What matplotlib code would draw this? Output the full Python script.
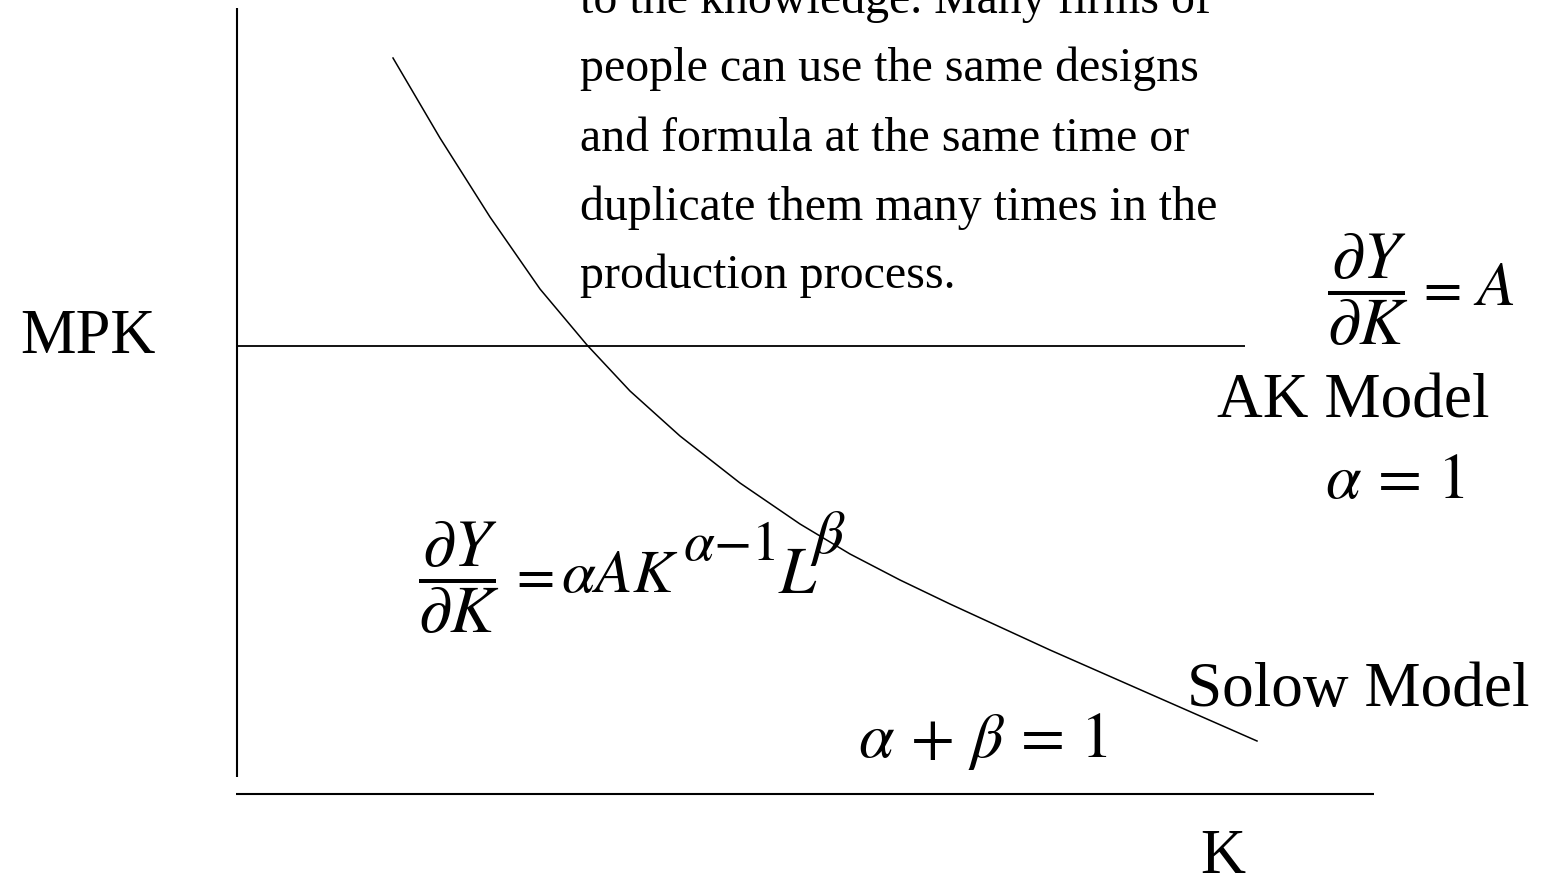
import matplotlib
matplotlib.use("Agg")
import matplotlib.pyplot as plt

plt.rcParams['font.family'] = ['Liberation Serif', 'DejaVu Serif']
plt.rcParams['mathtext.fontset'] = 'stix'

# diminishing MPK curve (Solow)
k_solow = [1.56, 2.03, 2.53, 3.03, 3.50, 3.93, 4.43, 5.03, 5.63, 6.13, 6.63, 7.13, 8.13, 9.13, 10.20]
mpk_solow = [7.36, 6.56, 5.77, 5.05, 4.49, 4.03, 3.58, 3.11, 2.70, 2.40, 2.14, 1.90, 1.44, 1.00, 0.53]

# constant MPK (AK model)
k_ak = [0.0, 10.08]
mpk_ak = [4.48, 4.48]

# axis extents
y_axis = [0.17, 7.86]
x_axis = [-0.01, 11.37]

note_lines = [
    "to the knowledge. Many firms of",
    "people can use the same designs",
    "and formula at the same time or",
    "duplicate them many times in the",
    "production process.",
]
note_baselines = [7.82, 7.14, 6.44, 5.75, 5.07]

fig = plt.figure(figsize=(15.49, 8.78), dpi=100)
ax = fig.add_axes([0, 0, 1, 1])
ax.set_xlim(-2.37, 13.12)
ax.set_ylim(-0.83, 7.95)
ax.axis('off')

ax.plot([0, 0], y_axis, color='black', lw=1.5, solid_capstyle='butt')
ax.plot(x_axis, [0, 0], color='black', lw=1.5, solid_capstyle='butt')
ax.plot(k_ak, mpk_ak, color='black', lw=1.3, solid_capstyle='butt')
ax.plot(k_solow, mpk_solow, color='black', lw=1.1)

for line, yb in zip(note_lines, note_baselines):
    ax.text(3.43, yb, line, fontsize=34.5, va='baseline', ha='left')

ax.text(-2.17, 4.42, "MPK", fontsize=45, va='baseline')
ax.text(9.63, -0.78, "K", fontsize=45, va='baseline')
ax.text(9.80, 3.77, "AK Model", fontsize=45.5, va='baseline')
ax.text(9.50, 0.89, "Solow Model", fontsize=45.5, va='baseline')

mfs = 48
# dY/dK = A
ax.text(10.90, 4.90, r'$\dfrac{\partial Y}{\partial K}$', fontsize=mfs, va='baseline')
ax.text(11.78, 4.90, r'$=$', fontsize=40, va='baseline')
ax.text(12.36, 4.90, r'$A$', fontsize=46, va='baseline')
ax.text(10.88, 2.97, r'$\alpha\,=\,1$', fontsize=46, va='baseline')
ax.text(6.21, 0.38, r'$\alpha\,+\,\beta\,=\,1$', fontsize=46, va='baseline')

# dY/dK = alpha A K^(alpha-1) L^beta
ax.text(1.81, 2.03, r'$\dfrac{\partial Y}{\partial K}$', fontsize=mfs, va='baseline')
ax.text(2.71, 2.03, r'$=$', fontsize=40, va='baseline')
ax.text(3.24, 2.03, r'$\alpha A K$', fontsize=44, va='baseline')
ax.text(4.46, 2.35, r'$\alpha{-}1$', fontsize=40, va='baseline')
ax.text(5.41, 2.02, r'$L$', fontsize=mfs, va='baseline')
ax.text(5.73, 2.42, r'$\beta$', fontsize=44, va='baseline')

fig.savefig("out.png", dpi=100)
